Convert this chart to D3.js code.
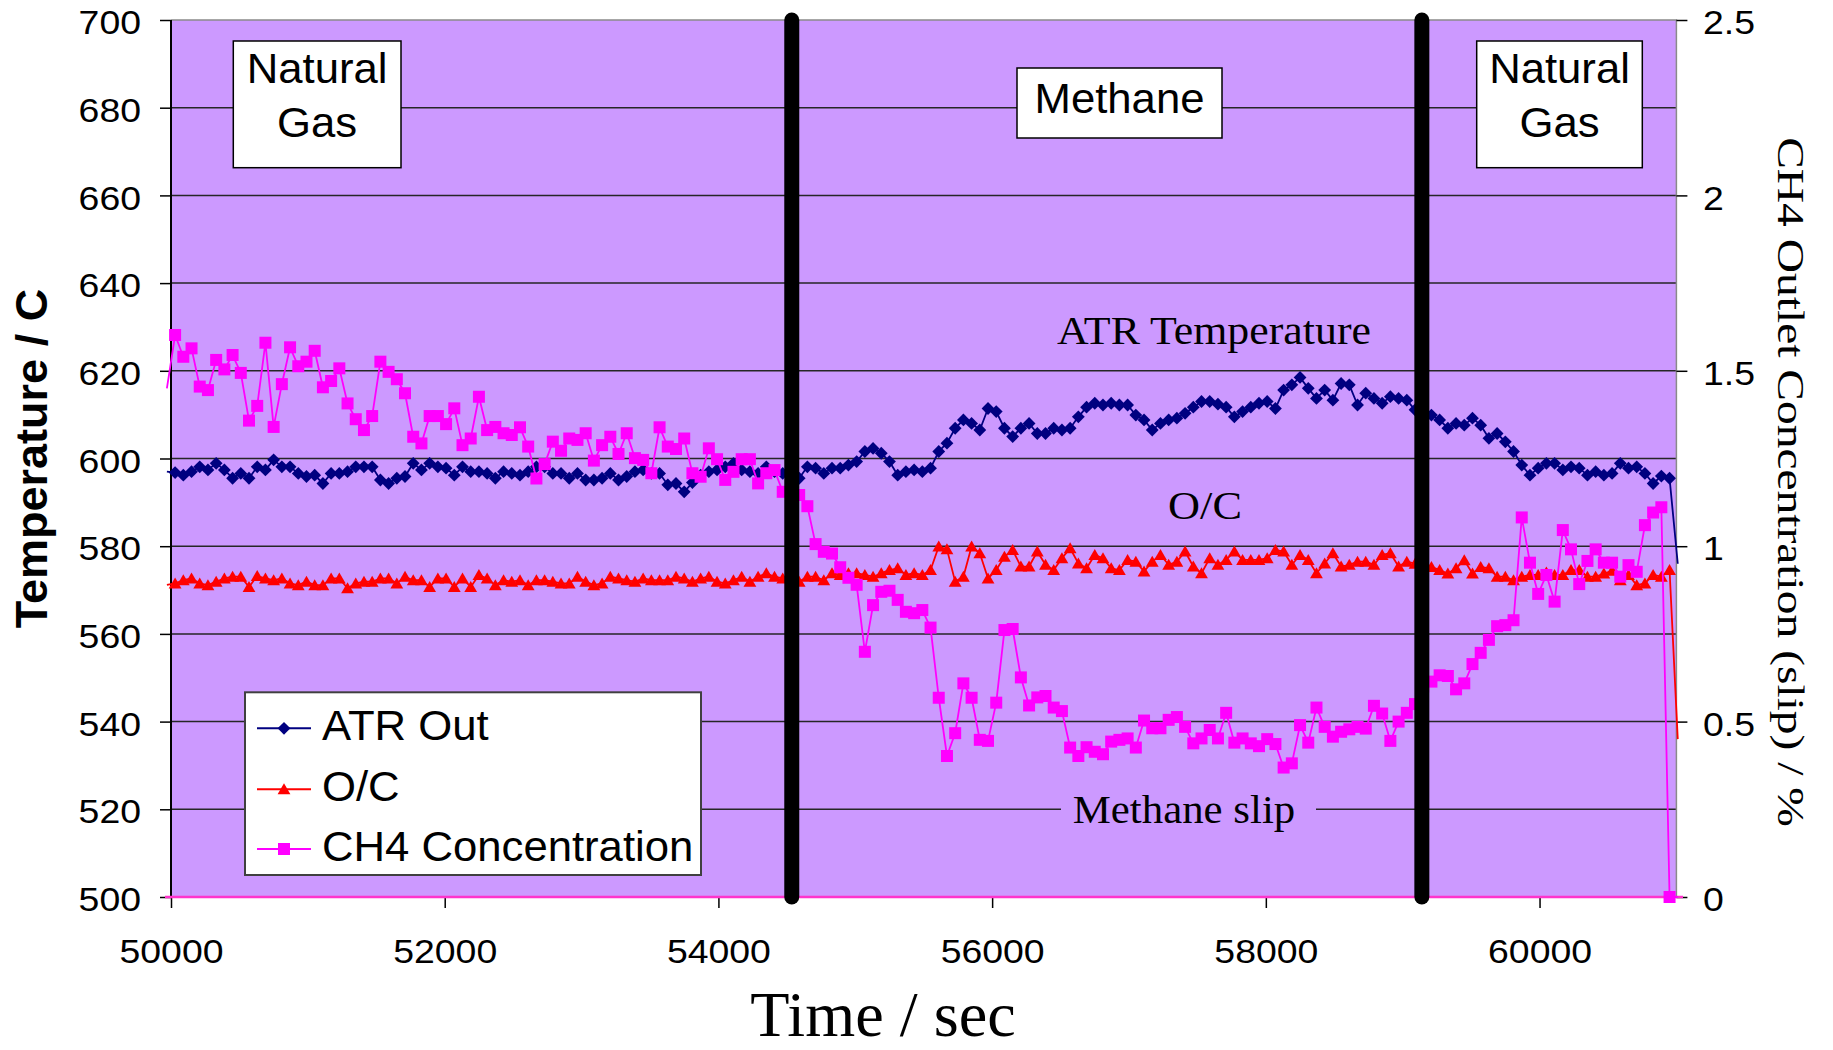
<!DOCTYPE html>
<html>
<head>
<meta charset="utf-8">
<script src="https://cdn.jsdelivr.net/npm/d3@7"></script>
<style>
  body { margin: 0; background: #ffffff; }
  svg { display: block; }
</style>
</head>
<body>
<svg id="chart" width="1833" height="1050"></svg>
<script>
// Logger sample times (s); first and last samples lie just outside the plotted window
const sampleTimes = [
  49970, 50030, 50090, 50150, 50210, 50270, 50330, 50390, 50450, 50510,
  50570, 50630, 50690, 50750, 50810, 50870, 50930, 50990, 51050, 51110,
  51170, 51230, 51290, 51350, 51410, 51470, 51530, 51590, 51650, 51710,
  51770, 51830, 51890, 51950, 52010, 52070, 52130, 52190, 52250, 52310,
  52370, 52430, 52490, 52550, 52610, 52670, 52730, 52790, 52850, 52910,
  52970, 53030, 53090, 53150, 53210, 53270, 53330, 53390, 53450, 53510,
  53570, 53630, 53690, 53750, 53810, 53870, 53930, 53990, 54050, 54110,
  54170, 54230, 54290, 54350, 54410, 54470, 54530, 54590, 54650, 54710,
  54770, 54830, 54890, 54950, 55010, 55070, 55130, 55190, 55250, 55310,
  55370, 55430, 55490, 55550, 55610, 55670, 55730, 55790, 55850, 55910,
  55970, 56030, 56090, 56150, 56210, 56270, 56330, 56390, 56450, 56510,
  56570, 56630, 56690, 56750, 56810, 56870, 56930, 56990, 57050, 57110,
  57170, 57230, 57290, 57350, 57410, 57470, 57530, 57590, 57650, 57710,
  57770, 57830, 57890, 57950, 58010, 58070, 58130, 58190, 58250, 58310,
  58370, 58430, 58490, 58550, 58610, 58670, 58730, 58790, 58850, 58910,
  58970, 59030, 59090, 59150, 59210, 59270, 59330, 59390, 59450, 59510,
  59570, 59630, 59690, 59750, 59810, 59870, 59930, 59990, 60050, 60110,
  60170, 60230, 60290, 60350, 60410, 60470, 60530, 60590, 60650, 60710,
  60770, 60830, 60890, 60950, 61010
];

// ATR outlet temperature (°C), left axis
const atrOut = [
  597.0,
  596.8, 596.2, 597.0, 598.1, 597.4, 598.9, 597.4, 595.5, 596.6, 595.5,
  598.1, 597.4, 599.7, 598.1, 598.1, 596.6, 595.9, 596.2, 594.3, 596.6,
  596.6, 597.0, 598.1, 598.1, 598.1, 595.1, 594.3, 595.5, 595.9, 598.9,
  597.4, 598.9, 598.1, 597.8, 596.2, 598.1, 597.0, 597.0, 596.6, 595.5,
  597.0, 596.6, 596.2, 597.0, 598.1, 598.1, 596.6, 596.6, 595.5, 596.6,
  595.1, 595.1, 595.5, 596.6, 595.1, 595.9, 597.0, 597.4, 596.6, 596.6,
  594.0, 594.3,
  592.4, 594.5, 596.2, 597.0, 597.4, 598.1, 598.9, 597.4, 597.0, 596.6,
  598.1, 597.0, 596.6, 597.0, 595.5, 598.1, 597.8, 596.6, 597.8, 597.8,
  598.5, 599.3, 601.6, 602.3, 601.2, 599.3, 596.2, 597.0, 597.4, 597.0,
  597.8, 601.6, 603.5, 606.9, 608.8, 608.0, 606.5, 611.4, 610.7, 606.9,
  605.0, 606.9, 608.0, 605.7, 605.7, 606.9, 606.5, 606.9, 609.5, 611.7,
  612.6, 612.2, 612.6, 612.2, 612.2, 609.9, 608.8, 606.5, 608.0, 608.8,
  609.2,
  610.3, 611.7, 613.0, 613.0, 612.4, 611.7, 609.5, 610.7, 611.7, 612.6,
  613.0, 611.4, 615.6, 616.8, 618.5, 616.0, 613.7, 615.6, 613.3, 617.1,
  616.8, 612.2, 614.9, 613.7, 612.6, 614.1, 613.7, 613.3, 611.1, 610.7,
  609.9, 608.8, 606.9, 608.0, 607.6, 609.2, 607.6, 604.6, 605.7, 603.8,
  601.6, 598.5, 596.2, 597.8, 598.9, 598.9, 597.4, 598.1, 597.8, 596.2,
  597.0, 596.2, 596.6, 598.9, 597.8, 598.1, 596.6, 594.3, 596.0, 595.5,
  576.0
];

// O/C ratio, right axis
const oxygenToCarbon = [
  0.890,
  0.894, 0.903, 0.908, 0.894, 0.889, 0.899, 0.908, 0.913, 0.913, 0.884,
  0.915, 0.908, 0.903, 0.908, 0.894, 0.889, 0.899, 0.889, 0.889, 0.908,
  0.908, 0.880, 0.894, 0.899, 0.899, 0.908, 0.908, 0.894, 0.913, 0.903,
  0.903, 0.884, 0.908, 0.908, 0.884, 0.908, 0.884, 0.918, 0.908, 0.889,
  0.903, 0.899, 0.903, 0.889, 0.903, 0.903, 0.899, 0.894, 0.894, 0.913,
  0.899, 0.889, 0.894, 0.913, 0.908, 0.903, 0.899, 0.908, 0.903, 0.903,
  0.903, 0.913,
  0.908, 0.899, 0.908, 0.913, 0.899, 0.894, 0.903, 0.913, 0.899, 0.913,
  0.923, 0.913, 0.908, 0.908, 0.899, 0.913, 0.913, 0.903, 0.923, 0.918,
  0.923, 0.923, 0.918, 0.913, 0.923, 0.932, 0.937, 0.918, 0.923, 0.918,
  0.932, 0.999, 0.991, 0.899, 0.913, 0.999, 0.980, 0.908, 0.932, 0.970,
  0.989, 0.942, 0.942, 0.985, 0.947, 0.932, 0.966, 0.994, 0.951, 0.937,
  0.975, 0.966, 0.937, 0.932, 0.961, 0.956, 0.928, 0.956, 0.975, 0.947,
  0.956,
  0.985, 0.942, 0.923, 0.966, 0.947, 0.961, 0.985, 0.961, 0.961, 0.961,
  0.966, 0.989, 0.985, 0.947, 0.975, 0.961, 0.923, 0.951, 0.980, 0.942,
  0.947, 0.956, 0.956, 0.947, 0.975, 0.980, 0.942, 0.956, 0.950, 0.945,
  0.941, 0.932, 0.922, 0.937, 0.960, 0.922, 0.941, 0.937, 0.913, 0.913,
  0.903, 0.913, 0.918, 0.918, 0.925, 0.918, 0.918, 0.932, 0.932, 0.913,
  0.913, 0.922, 0.930, 0.903, 0.918, 0.889, 0.894, 0.918, 0.913, 0.932,
  0.450
];

// CH4 outlet concentration, methane slip (%), right axis
const ch4Concentration = [
  1.450,
  1.602, 1.540, 1.564, 1.455, 1.445, 1.531, 1.504, 1.545, 1.494, 1.358,
  1.400, 1.580, 1.340, 1.462, 1.567, 1.513, 1.526, 1.557, 1.453, 1.471,
  1.507, 1.407, 1.362, 1.331, 1.371, 1.526, 1.497, 1.476, 1.436, 1.312,
  1.293, 1.371, 1.371, 1.348, 1.393, 1.288, 1.307, 1.426, 1.331, 1.340,
  1.322, 1.317, 1.339, 1.284, 1.193, 1.234, 1.298, 1.272, 1.307, 1.303,
  1.322, 1.244, 1.288, 1.312, 1.263, 1.322, 1.251, 1.246, 1.208, 1.339,
  1.284, 1.277,
  1.307, 1.208, 1.198, 1.279, 1.248, 1.189, 1.212, 1.248, 1.248, 1.179,
  1.208, 1.217, 1.155, 1.160, 1.146, 1.114, 1.006, 0.984, 0.979, 0.940,
  0.910, 0.890, 0.699, 0.832, 0.870, 0.873, 0.847, 0.813, 0.809, 0.818,
  0.768, 0.568, 0.402, 0.467, 0.609, 0.568, 0.448, 0.445, 0.554, 0.761,
  0.764, 0.626, 0.546, 0.569, 0.573, 0.540, 0.530, 0.426, 0.402, 0.427,
  0.414, 0.407, 0.443, 0.448, 0.452, 0.426, 0.503, 0.481, 0.481, 0.505,
  0.513,
  0.485, 0.438, 0.452, 0.476, 0.452, 0.525, 0.440, 0.452, 0.438, 0.430,
  0.450, 0.436, 0.369, 0.381, 0.490, 0.440, 0.540, 0.485, 0.457, 0.471,
  0.478, 0.485, 0.480, 0.545, 0.523, 0.445, 0.500, 0.525, 0.550, 0.600,
  0.614, 0.632, 0.630, 0.592, 0.609, 0.664, 0.696, 0.733, 0.772, 0.775,
  0.789, 1.082, 0.953, 0.864, 0.918, 0.842, 1.046, 0.991, 0.892, 0.958,
  0.991, 0.953, 0.953, 0.913, 0.946, 0.927, 1.060, 1.096, 1.111, 0.000,
  0.000
];

// Axis ticks
const timeTicks = [50000, 52000, 54000, 56000, 58000, 60000];
const tempTicks = [500, 520, 540, 560, 580, 600, 620, 640, 660, 680, 700];
const slipTicks = [0, 0.5, 1, 1.5, 2, 2.5];

// Fuel switch-over times (s)
const fuelChanges = [54536, 59140];

// Series definitions
const seriesList = [
  { name: "ATR Out", values: atrOut, axis: "temp", color: "#000080", marker: "diamond" },
  { name: "O/C", values: oxygenToCarbon, axis: "slip", color: "#ff0000", marker: "triangle" },
  { name: "CH4 Concentration", values: ch4Concentration, axis: "slip", color: "#ff00ff", marker: "square" }
];

const plot = { left: 171, right: 1676.4, top: 20, bottom: 897 };
const sans = "'Liberation Sans', Arial, Helvetica, sans-serif";
const serif = "'Liberation Serif', 'Times New Roman', Times, serif";
const plotFill = "#cc99ff";

const x = d3.scaleLinear().domain([50000, 61000]).range([plot.left, plot.right]);
const yTemp = d3.scaleLinear().domain([500, 700]).range([plot.bottom, plot.top]);
const ySlip = d3.scaleLinear().domain([0, 2.5]).range([plot.bottom, plot.top]);

const svg = d3.select("#chart");

// text helper: anchored at (x, y), optionally stretched horizontally
function addText(parent, { x: tx, y: ty, text, font, size, weight, anchor, stretch, rotate }) {
  let tf = `translate(${tx},${ty})`;
  if (rotate) tf += ` rotate(${rotate})`;
  if (stretch && stretch !== 1) tf += ` scale(${stretch},1)`;
  return parent.append("text")
    .attr("transform", tf)
    .attr("text-anchor", anchor || "middle")
    .attr("font-family", font).attr("font-size", size)
    .attr("font-weight", weight || "normal")
    .attr("fill", "#000").text(text);
}

// plot background
svg.append("rect")
  .attr("x", plot.left).attr("y", plot.top)
  .attr("width", plot.right - plot.left).attr("height", plot.bottom - plot.top)
  .attr("fill", plotFill);

// horizontal gridlines
svg.append("g").selectAll("line")
  .data(tempTicks.filter(d => d > 500 && d < 700))
  .join("line")
  .attr("x1", plot.left).attr("x2", plot.right)
  .attr("y1", d => yTemp(d)).attr("y2", d => yTemp(d))
  .attr("stroke", "#262626").attr("stroke-width", 1.5);

// frame: top and right in grey, left axis line in black
svg.append("path")
  .attr("d", `M${plot.left},${plot.top}H${plot.right}V${plot.bottom}`)
  .attr("fill", "none").attr("stroke", "#8a8a8a").attr("stroke-width", 1.5);
svg.append("line")
  .attr("x1", plot.left).attr("x2", plot.left)
  .attr("y1", plot.top).attr("y2", plot.bottom)
  .attr("stroke", "#000").attr("stroke-width", 2);

// axes
const tickFont = 34, tickStretch = 1.1;
function styleAxis(g, shiftX) {
  g.select(".domain").remove();
  g.selectAll(".tick line").attr("stroke", "#000").attr("stroke-width", 1.5);
  g.selectAll(".tick text")
    .attr("font-family", sans).attr("font-size", tickFont).attr("fill", "#000")
    .attr("transform", `scale(${tickStretch},1)`);
  if (shiftX !== undefined) g.selectAll(".tick text").attr("x", shiftX / tickStretch).attr("dy", "0.4em");
}

svg.append("g")
  .attr("transform", `translate(${plot.left},0)`)
  .call(d3.axisLeft(yTemp).tickValues(tempTicks).tickSize(11).tickPadding(19).tickFormat(d3.format("d")))
  .call(g => styleAxis(g, -30));

svg.append("g")
  .attr("transform", `translate(${plot.right},0)`)
  .call(d3.axisRight(ySlip).tickValues(slipTicks).tickSize(11).tickPadding(15.6).tickFormat(d3.format("")))
  .call(g => styleAxis(g, 26.6));

svg.append("g")
  .attr("transform", `translate(0,${plot.bottom})`)
  .call(d3.axisBottom(x).tickValues(timeTicks).tickSize(11).tickPadding(31).tickFormat(d3.format("d")))
  .call(g => styleAxis(g));

// series
svg.append("clipPath").attr("id", "seriesClip")
  .append("rect").attr("x", 165).attr("y", 0).attr("width", 1684 - 165).attr("height", 1050);

// zero line of the slip axis
svg.append("line")
  .attr("x1", 165).attr("x2", 1683)
  .attr("y1", ySlip(0)).attr("y2", ySlip(0))
  .attr("stroke", "#ff33cc").attr("stroke-width", 2.5);

const markerPath = {
  diamond: "M0,-6.4L6.4,0L0,6.4L-6.4,0Z",
  triangle: "M0,-6L6.4,5L-6.4,5Z",
  square: "M-6,-6H6V6H-6Z"
};

const seriesLayer = svg.append("g").attr("clip-path", "url(#seriesClip)");
seriesList.forEach(s => {
  const yScale = s.axis === "temp" ? yTemp : ySlip;
  const pts = sampleTimes.map((t, i) => ({ t, v: s.values[i] }));
  const g = seriesLayer.append("g");
  g.append("path")
    .datum(pts)
    .attr("fill", "none").attr("stroke", s.color).attr("stroke-width", 1.8)
    .attr("stroke-linejoin", "round")
    .attr("d", d3.line().x(d => x(d.t)).y(d => yScale(d.v)));
  g.selectAll("path.mk")
    .data(pts.filter(d => d.t >= 50000 && d.t <= 61000))
    .join("path").attr("class", "mk")
    .attr("d", markerPath[s.marker])
    .attr("transform", d => `translate(${x(d.t)},${yScale(d.v)})`)
    .attr("fill", s.color);
});

// fuel change markers
svg.append("g").selectAll("line")
  .data(fuelChanges).join("line")
  .attr("x1", d => x(d)).attr("x2", d => x(d))
  .attr("y1", plot.top).attr("y2", plot.bottom)
  .attr("stroke", "#000").attr("stroke-width", 15).attr("stroke-linecap", "round");

// fuel labels
function fuelBox(x0, y0, x1, y1, lines, baselines) {
  const g = svg.append("g");
  g.append("rect").attr("x", x0).attr("y", y0).attr("width", x1 - x0).attr("height", y1 - y0)
    .attr("fill", "#fff").attr("stroke", "#000").attr("stroke-width", 1.5);
  lines.forEach((t, i) => addText(g, { x: (x0 + x1) / 2, y: baselines[i], text: t, font: sans, size: 42, stretch: 1.04 }));
}
fuelBox(233.3, 41, 401, 167.7, ["Natural", "Gas"], [82.7, 136.7]);
fuelBox(1017, 68, 1222, 138, ["Methane"], [113]);
fuelBox(1476.7, 41, 1642.3, 167.7, ["Natural", "Gas"], [82.7, 136.7]);

// series annotations
svg.append("rect").attr("x", 1061).attr("y", 790).attr("width", 255).attr("height", 44).attr("fill", plotFill);
[
  { text: "ATR Temperature", cx: 1214, y: 344, stretch: 1.07 },
  { text: "O/C", cx: 1205, y: 519, stretch: 1.08 },
  { text: "Methane slip", cx: 1184, y: 823, stretch: 1.045 }
].forEach(a => addText(svg, { x: a.cx, y: a.y, text: a.text, font: serif, size: 41, stretch: a.stretch }));

// legend
const legend = svg.append("g");
legend.append("rect").attr("x", 245).attr("y", 692.3).attr("width", 456).attr("height", 182.7)
  .attr("fill", "#fff").attr("stroke", "#404040").attr("stroke-width", 2);
const legendRows = [728.3, 789.3, 849];
seriesList.forEach((s, i) => {
  const yy = legendRows[i];
  legend.append("line").attr("x1", 257).attr("x2", 311).attr("y1", yy).attr("y2", yy)
    .attr("stroke", s.color).attr("stroke-width", 2);
  legend.append("path").attr("d", markerPath[s.marker])
    .attr("transform", `translate(284,${yy})`).attr("fill", s.color);
  addText(legend, { x: 322, y: yy + 12, text: s.name, font: sans, size: 42, anchor: "start", stretch: 1.04 });
});

// axis titles
addText(svg, { x: 46.7, y: (plot.top + plot.bottom) / 2, text: "Temperature / C", font: sans, size: 45, weight: "bold", rotate: -90 });
addText(svg, { x: 1778, y: 482, text: "CH4 Outlet Concentration (slip) / %", font: serif, size: 38, rotate: 90, stretch: 1.25 });
addText(svg, { x: 883, y: 1036, text: "Time / sec", font: serif, size: 63, stretch: 1.02 });
</script>
</body>
</html>
